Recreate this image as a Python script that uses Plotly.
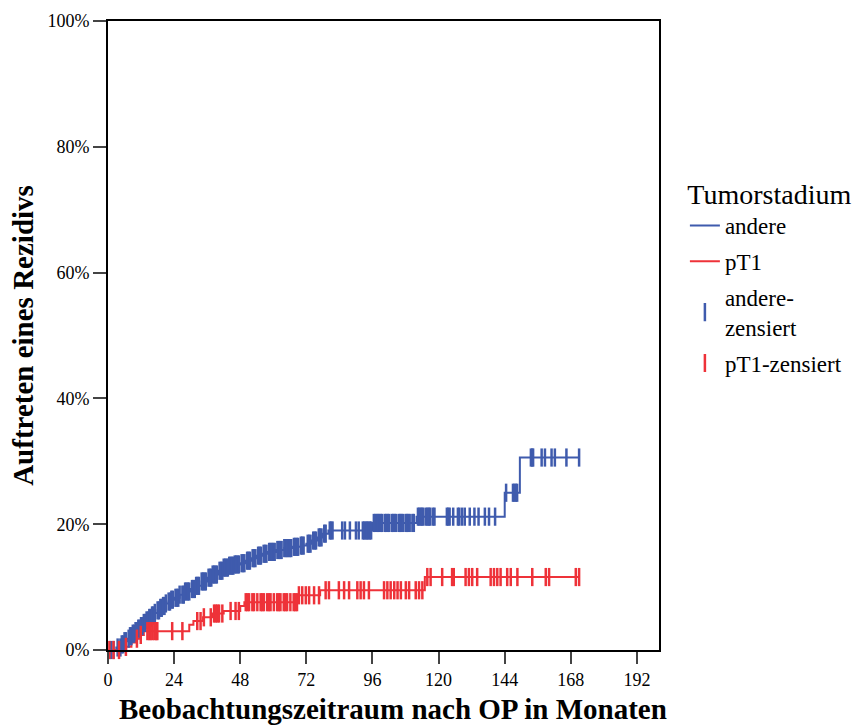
import numpy as np
import plotly.graph_objects as go

# Kaplan-Meier style cumulative incidence (percent)
andere_t = [0, 3, 5, 6, 7, 8, 9, 10, 11, 12, 13, 14, 15, 16, 17, 18, 19, 20, 21, 22, 23, 24,
            26, 28, 30, 32, 34, 36, 38, 40, 42, 44, 46, 48, 50, 52, 54, 56, 58, 61, 64, 67,
            70, 72, 74, 76, 78, 80, 96, 112, 144, 149.5]
andere_p = [0, 0.4, 0.9, 1.4, 1.8, 2.2, 2.6, 3.0, 3.4, 3.8, 4.3, 4.7, 5.1, 5.5, 5.9, 6.3, 6.7,
            7.0, 7.4, 7.7, 8.0, 8.3, 8.8, 9.3, 9.7, 10.2, 10.9, 11.5, 12.0, 12.6, 13.1, 13.4,
            13.6, 13.8, 14.2, 14.6, 15.0, 15.3, 15.6, 15.9, 16.2, 16.4, 16.6, 16.9, 17.4, 17.9,
            18.5, 19.0, 20.2, 21.2, 25.0, 30.6]
pt1_t = [0, 6, 8.5, 10, 11.5, 13, 29.5, 31, 34.5, 38, 42, 48, 49.5, 68.8, 77, 115]
pt1_p = [0, 0.5, 1.2, 1.8, 2.4, 3.0, 4.0, 4.6, 5.2, 5.8, 6.2, 7.0, 7.6, 8.7, 9.5, 11.6]
end_time = 171

andere_cens = [1, 2, 3.5, 4.5, 5, 5.5, 6, 6.5, 7.5, 8, 8.5, 9, 9.5, 10, 10.5, 11, 11.5, 12,
               12.5, 13, 13.5, 14, 14.5, 15, 15.5, 16, 16.5, 17, 18, 18.5, 19, 19.5, 20, 20.5,
               21, 22, 22.5, 23, 23.5, 24.5, 25, 25.5, 26, 27, 27.5, 28, 28.5, 29, 29.5, 30.5,
               31, 31.5, 32, 32.5, 33, 34, 34.5, 35, 35.5, 36.5, 37, 37.5, 38, 38.5, 39, 39.5,
               40.5, 41, 41.5, 42, 42.5, 43, 43.5, 44, 44.5, 45, 45.5, 46, 46.5, 47, 47.5, 48.5,
               49, 49.5, 50.5, 51, 51.5, 52.5, 53, 53.5, 54.5, 55, 55.5, 56.5, 57, 57.5, 58.5,
               59, 59.5, 60, 60.5, 61.5, 62, 62.5, 63, 64, 64.5, 65, 65.5, 66, 66.5, 67.5, 68,
               68.5, 69, 70, 70.5, 71, 72.5, 73, 73.5, 74.5, 75, 75.5, 76.5, 77, 77.5, 78.5, 79,
               80.5, 81, 81.5, 85, 86, 87.8, 90, 91, 92.5, 93, 93.5, 94, 94.5, 95, 95.5, 96.5,
               97, 97.5, 98, 98.5, 99, 99.5, 100.5, 101, 101.5, 102, 103, 103.5, 104, 104.5,
               105.5, 106, 106.5, 107, 108, 108.5, 109, 109.5, 110.5, 111, 112.5, 113, 113.5,
               114, 114.5, 115.5, 116, 116.5, 117, 118, 118.5, 123, 123.5, 124, 125.3, 127,
               127.5, 128.5, 129.5, 131.3, 133, 134.5, 136.8, 138.3, 140.5, 144.5, 147, 147.5,
               148, 148.5, 153.5, 154, 154.3, 157.4, 158.6, 161, 162.2, 166.4, 171]
pt1_cens = [0.5, 2, 4, 6.5, 10.5, 11.9, 14.3, 15, 15.5, 16.2, 16.9, 17.5, 17.9, 23.3, 27, 32.4,
            33.6, 34.8, 37.3, 38.5, 39.1, 39.7, 40.3, 41.5, 44.5, 46.3, 47.5, 50, 50.6, 51.2,
            52.4, 53, 54.2, 55.4, 56, 56.6, 57.8, 58.4, 59, 60.2, 61.4, 62, 62.6, 63.8, 64.4,
            65, 66.2, 67.4, 68, 68.6, 69.3, 70.5, 71.8, 73, 74.8, 76.6, 79, 80.2, 83.8, 85.7,
            87.5, 90.5, 91.7, 92.9, 94.7, 100.2, 101.4, 102.6, 103.9, 105.1, 106.3, 108.1, 109.3,
            111.7, 112.9, 114.1, 115.9, 117.1, 121.3, 124.9, 125.5, 129.8, 131, 132.2, 134,
            138.9, 140.1, 141.3, 142.5, 144.9, 146.2, 148.6, 154, 158.9, 160.1, 169.8, 171]

x_ticks = [0, 24, 48, 72, 96, 120, 144, 168, 192]
y_ticks = [0, 20, 40, 60, 80, 100]
y_tick_labels = ["0%", "20%", "40%", "60%", "80%", "100%"]

BLUE = "#3F5BAD"
RED = "#EE3239"
FONT = "Liberation Serif"


def step_value(ts, ps, t):
    idx = np.searchsorted(np.array(ts), t, side="right") - 1
    return np.array(ps)[idx]


fig = go.Figure()
fig.add_trace(go.Scatter(x=andere_t + [end_time], y=andere_p + [andere_p[-1]], mode="lines",
                         line=dict(color=BLUE, width=2, shape="hv"), name="andere",
                         legendgroup="a"))
fig.add_trace(go.Scatter(x=pt1_t + [end_time], y=pt1_p + [pt1_p[-1]], mode="lines",
                         line=dict(color=RED, width=2, shape="hv"), name="pT1",
                         legendgroup="b"))
fig.add_trace(go.Scatter(x=andere_cens, y=step_value(andere_t, andere_p, andere_cens),
                         mode="markers", name="andere-<br>zensiert", legendgroup="c",
                         marker=dict(symbol="line-ns", size=13, color=BLUE,
                                     line=dict(color=BLUE, width=2.5)), cliponaxis=False))
fig.add_trace(go.Scatter(x=pt1_cens, y=step_value(pt1_t, pt1_p, pt1_cens),
                         mode="markers", name="pT1-zensiert", legendgroup="d",
                         marker=dict(symbol="line-ns", size=13, color=RED,
                                     line=dict(color=RED, width=2.5)), cliponaxis=False))

fig.add_annotation(text="<b>Beobachtungszeitraum nach OP in Monaten</b>", xref="paper",
                   yref="paper", x=0.517, y=-0.094, xanchor="center", yanchor="middle",
                   showarrow=False, font=dict(size=29))

fig.update_layout(
    width=859, height=726,
    margin=dict(l=108, r=200, t=21, b=76, autoexpand=False),
    paper_bgcolor="white", plot_bgcolor="white",
    font=dict(family=FONT, color="black", size=18),
    showlegend=True,
    legend=dict(x=1.047, y=0.767, xanchor="left", yanchor="top",
                title=dict(text="Tumorstadium", font=dict(size=28), side="top center"),
                font=dict(size=23), tracegroupgap=3, bgcolor="rgba(0,0,0,0)"),
    xaxis=dict(range=[0, 200], tickvals=x_ticks, ticks="outside", ticklen=12, tickwidth=2,
               showline=True, linewidth=2, linecolor="black", mirror=True, showgrid=False,
               zeroline=False, tickfont=dict(size=18), ticklabelstandoff=0),
    yaxis=dict(range=[0, 100], tickvals=y_ticks, ticktext=y_tick_labels, ticks="outside",
               ticklen=13, tickwidth=2, showline=True, linewidth=2, linecolor="black",
               mirror=True, showgrid=False, zeroline=False, tickfont=dict(size=18),
               title=dict(text="<b>Auftreten eines Rezidivs</b>", font=dict(size=29),
                          standoff=5)),
)

fig.write_html("out.html")
